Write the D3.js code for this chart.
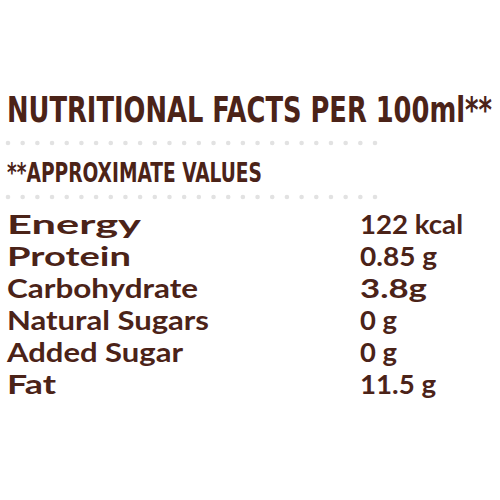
<!DOCTYPE html><html><head><meta charset="utf-8"><script src="https://cdn.jsdelivr.net/npm/d3@7"></script>
<style>body{margin:0;background:#fff}</style></head><body><svg width="500" height="500"></svg><script>
const labels=["Energy","Protein","Carbohydrate","Natural Sugars","Added Sugar","Fat"];
const values=["122 kcal","0.85 g","3.8g","0 g","0 g","11.5 g"];
const labelW=[134,124,191,202,176,49];
const valueW=[103,77,67,37,37,76];
const title="NUTRITIONAL FACTS PER 100ml**", subtitle="**APPROXIMATE VALUES";
const col="#4b2318";
const svg=d3.select("svg");
svg.append("text").attr("x",7).attr("y",122).attr("font-family","Liberation Sans Narrow, DejaVu Sans Condensed").attr("font-weight","bold").attr("font-size",35).attr("fill",col).attr("textLength",485).attr("lengthAdjust","spacingAndGlyphs").text(title);
svg.append("text").attr("x",7).attr("y",182).attr("font-family","Liberation Sans Narrow, DejaVu Sans Condensed").attr("font-weight","bold").attr("font-size",27).attr("fill",col).attr("textLength",255).attr("lengthAdjust","spacingAndGlyphs").text(subtitle);
const dots=d3.range(26);
const xd=d3.scaleLinear().domain([0,25]).range([8,375]);
[143,197].forEach(y=>svg.append("g").selectAll("circle").data(dots).join("circle").attr("cx",d=>xd(d)).attr("cy",y).attr("r",2.3).attr("fill","#e2e2e2"));
const y=d3.scaleBand().domain(labels).range([210,402]);
const g=svg.append("g").attr("font-family","Lato, Noto Sans").attr("font-weight","bold").attr("font-size",27).attr("fill",col);
g.selectAll(".l").data(labels).join("text").attr("x",7).attr("y",d=>y(d)+24).attr("textLength",(d,i)=>labelW[i]).attr("lengthAdjust","spacingAndGlyphs").text(d=>d);
g.selectAll(".v").data(values).join("text").attr("x",360).attr("y",(d,i)=>y(labels[i])+24).attr("textLength",(d,i)=>valueW[i]).attr("lengthAdjust","spacingAndGlyphs").text(d=>d);
</script></body></html>
